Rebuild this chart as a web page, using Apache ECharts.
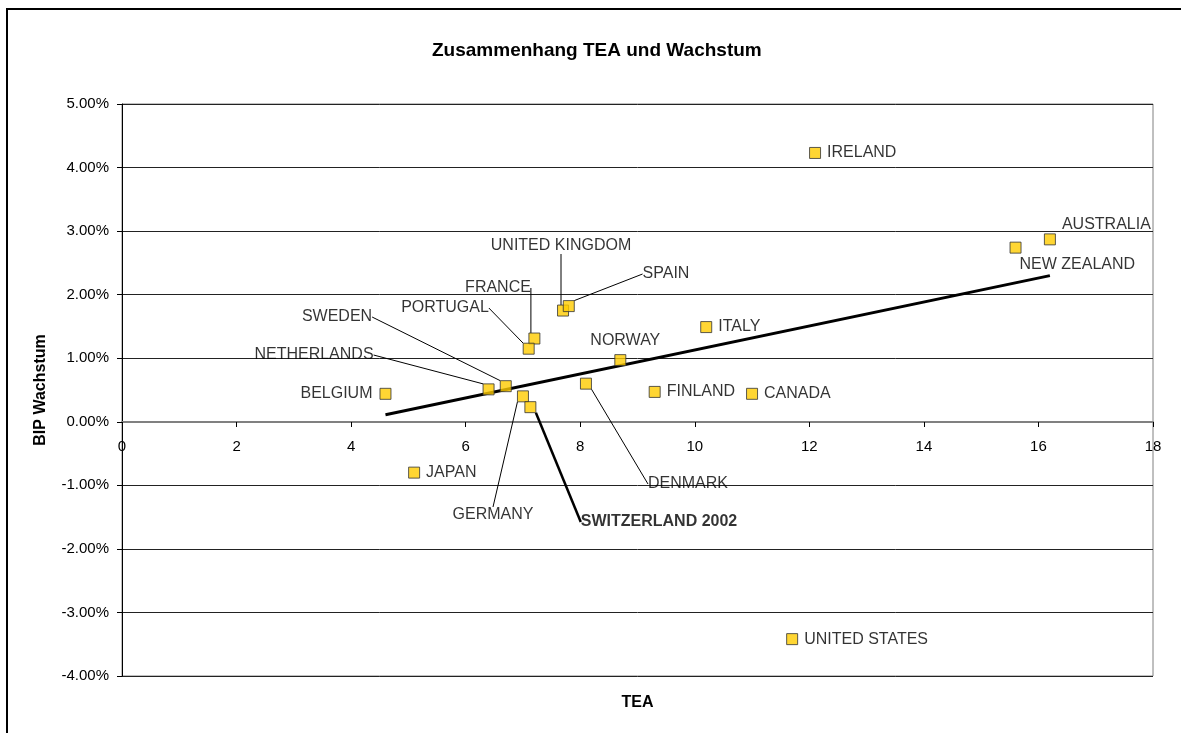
<!DOCTYPE html>
<html>
<head>
<meta charset="utf-8">
<title>Zusammenhang TEA und Wachstum</title>
<script src="https://cdn.jsdelivr.net/npm/echarts@6/dist/echarts.min.js"></script>
<style>
  html, body { margin: 0; padding: 0; background: #fff; }
  #chart { width: 1181px; height: 733px; }
</style>
</head>
<body>
<div id="chart"></div>
<script>
// Daten
const countries = [
  'IRELAND', 'AUSTRALIA', 'NEW ZEALAND', 'UNITED KINGDOM', 'SPAIN', 'FRANCE',
  'PORTUGAL', 'ITALY', 'NORWAY', 'SWEDEN', 'NETHERLANDS', 'BELGIUM', 'DENMARK',
  'FINLAND', 'CANADA', 'GERMANY', 'SWITZERLAND 2002', 'JAPAN', 'UNITED STATES'
];
const tea = [12.1, 16.2, 15.6, 7.7, 7.8, 7.2, 7.1, 10.2, 8.7, 6.7, 6.4, 4.6, 8.1, 9.3, 11.0, 7.0, 7.13, 5.1, 11.7];
const growth = [4.23, 2.87, 2.74, 1.75, 1.82, 1.31, 1.15, 1.49, 0.97, 0.56, 0.51, 0.44, 0.60, 0.47, 0.44, 0.40, 0.23, -0.80, -3.42];
// Trendlinie: Endpunkte
const trendX = [4.6, 16.2];
const trendY = [0.11, 2.30];
// Achsen
const xTicks = { min: 0, max: 18, step: 2 };
const yTicks = { min: -4, max: 5, step: 1 };

// Beschriftungen: Lage (Pixel) – nur Stil, keine Daten
const labelPlacement = {
  'IRELAND': { position: 'right' },
  'AUSTRALIA': { position: 'right', d: [0, -15] },
  'NEW ZEALAND': { position: 'right', d: [-8, 17] },
  'ITALY': { position: 'right' },
  'NORWAY': { position: 'top', d: [5, 0] },
  'FINLAND': { position: 'right' },
  'CANADA': { position: 'right' },
  'BELGIUM': { position: 'left', distance: 7 },
  'JAPAN': { position: 'right' },
  'UNITED STATES': { position: 'right' },
  'UNITED KINGDOM': { at: [561, 246] },
  'SPAIN': { at: [666, 274] },
  'FRANCE': { at: [498, 288] },
  'PORTUGAL': { at: [445, 308] },
  'SWEDEN': { at: [337, 317] },
  'NETHERLANDS': { at: [314, 355] },
  'GERMANY': { at: [493, 515] },
  'SWITZERLAND 2002': { at: [659, 522], bold: true },
  'DENMARK': { at: [688, 484] }
};

const FONT = 'Liberation Sans, Arial, sans-serif';

const points = countries.map((name, i) => {
  const p = labelPlacement[name];
  const item = { name: name, value: [tea[i], growth[i]] };
  if (p.at) {
    item.label = {
      position: 'inside', align: 'center', verticalAlign: 'middle',
      fontWeight: p.bold ? 'bold' : 'normal'
    };
    item.labelLine = {
      show: true,
      lineStyle: { color: '#000', width: p.bold ? 2.5 : 1 }
    };
  } else {
    item.label = {
      position: p.position,
      distance: p.distance || 6
    };
  }
  return item;
});

const chart = echarts.init(document.getElementById('chart'));

chart.setOption({
  animation: false,
  backgroundColor: '#fff',
  textStyle: { fontFamily: FONT },
  title: {
    text: 'Zusammenhang TEA und Wachstum',
    left: 427,
    top: 36,
    textStyle: { fontFamily: FONT, fontSize: 19, fontWeight: 'bold', color: '#000' }
  },
  graphic: [{
    type: 'rect',
    shape: { x: 7, y: 9, width: 1200, height: 800 },
    style: { fill: null, stroke: '#000', lineWidth: 2 },
    silent: true
  }],
  grid: {
    left: 122, right: 28, top: 104, bottom: 57,
    show: true, borderColor: '#808080', borderWidth: 1
  },
  xAxis: [{
    type: 'value',
    position: 'bottom',
    // Achse liegt bei 0 % (254 px oberhalb des Rands)
    offset: -254,
    min: xTicks.min, max: xTicks.max, interval: xTicks.step,
    axisLine: { onZero: false, lineStyle: { color: '#808080', width: 2 } },
    axisTick: { show: true, length: 5, lineStyle: { color: '#000' } },
    axisLabel: { margin: 17, fontSize: 15, color: '#000', fontFamily: FONT },
    splitLine: { show: false }
  }, {
    type: 'value',
    position: 'bottom',
    min: xTicks.min, max: xTicks.max,
    name: 'TEA',
    nameLocation: 'middle',
    nameGap: 19,
    nameTextStyle: { fontSize: 16, fontWeight: 'bold', color: '#000', fontFamily: FONT },
    axisLine: { show: false, onZero: false },
    axisTick: { show: false },
    axisLabel: { show: false },
    splitLine: { show: false }
  }],
  yAxis: {
    type: 'value',
    min: yTicks.min, max: yTicks.max, interval: yTicks.step,
    name: 'BIP Wachstum',
    nameLocation: 'middle',
    nameGap: 73,
    nameTextStyle: { fontSize: 16, fontWeight: 'bold', color: '#000', fontFamily: FONT },
    axisLine: { show: true, onZero: false, lineStyle: { color: '#000', width: 1 } },
    axisTick: { show: true, length: 5, lineStyle: { color: '#000' } },
    axisLabel: {
      margin: 13, fontSize: 15, color: '#000', fontFamily: FONT,
      formatter: v => v.toFixed(2) + '%'
    },
    splitLine: { show: true, lineStyle: { color: '#222', width: 1 } }
  },
  series: [{
    name: 'Trend',
    type: 'line',
    data: trendX.map((x, i) => [x, trendY[i]]),
    showSymbol: false,
    lineStyle: { color: '#000', width: 3 },
    z: 3
  }, {
    name: 'Länder',
    type: 'scatter',
    symbol: 'rect',
    symbolSize: 11,
    itemStyle: { color: '#FFCC00', borderColor: '#333', borderWidth: 1 },
    label: {
      show: true,
      formatter: '{b}',
      fontSize: 16,
      color: '#000',
      fontFamily: FONT
    },
    labelLayout: params => {
      const p = labelPlacement[countries[params.dataIndex]];
      if (p.at) {
        return { x: p.at[0], y: p.at[1] };
      }
      if (p.d) {
        return { dx: p.d[0], dy: p.d[1] };
      }
      return {};
    },
    data: points,
    z: 4
  }]
});
</script>
</body>
</html>
